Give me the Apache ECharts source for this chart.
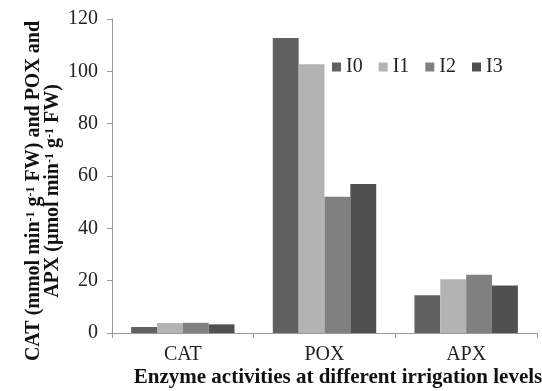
<!DOCTYPE html>
<html><head><meta charset="utf-8">
<script src="https://cdn.jsdelivr.net/npm/echarts@6/dist/echarts.min.js"></script>
<style>html,body{margin:0;padding:0;background:#fff}#c{width:542px;height:391px}</style>
</head><body><div id="c"></div>
<script>
const categories = ['CAT', 'POX', 'APX'];
const seriesNames = ['I0', 'I1', 'I2', 'I3'];
const I0 = [2.3, 112.7, 14.4];
const I1 = [3.8, 102.7, 20.5];
const I2 = [3.9, 52.1, 22.3];
const I3 = [3.3, 56.9, 18.2];
const yTicks = [0, 20, 40, 60, 80, 100, 120];
const colors = ['#606060', '#b3b3b3', '#808080', '#505050'];
const values = [I0, I1, I2, I3];
const FONT = 'Liberation Serif';

const chart = echarts.init(document.getElementById('c'), null, {renderer: 'canvas'});
chart.setOption({
  animation: false,
  grid: {left: 112, right: 5, top: 19, bottom: 58},
  legend: {
    left: 327, top: 52, itemWidth: 9, itemHeight: 9, itemGap: 16,
    icon: 'rect',
    textStyle: {fontFamily: FONT, fontSize: 20, color: '#222'},
    data: seriesNames
  },
  xAxis: {
    type: 'category', data: categories,
    axisLine: {lineStyle: {color: '#9a9a9a', width: 1}},
    axisTick: {show: true, length: 5, lineStyle: {color: '#9a9a9a'}},
    axisLabel: {fontFamily: FONT, fontSize: 20, color: '#222', margin: 12}
  },
  yAxis: {
    type: 'value', min: yTicks[0], max: yTicks[yTicks.length-1], interval: 20,
    axisLine: {show: true, lineStyle: {color: '#9a9a9a', width: 1}},
    axisTick: {show: true, length: 5, lineStyle: {color: '#9a9a9a'}},
    splitLine: {show: false},
    axisLabel: {fontFamily: FONT, fontSize: 20, color: '#222', margin: 14}
  },
  series: seriesNames.map((n, i) => ({
    name: n, type: 'bar', data: values[i],
    itemStyle: {color: colors[i]},
    barGap: '0%', barCategoryGap: '27%'
  })),
  graphic: [
    {
      type: 'text', x: 338, y: 378,
      style: {text: 'Enzyme activities at different irrigation levels', fontFamily: FONT, fontWeight: 'bold', fontSize: 21, fill: '#111', align: 'center', verticalAlign: 'middle'}
    },
    {
      type: 'text', x: 44, y: 191, rotation: Math.PI / 2,
      style: {
        text: '{n|CAT (mmol min}{s|-1}{n| g}{s|-1}{n| FW) and POX and}\n{n|APX (µmol min}{s|-1}{n| g}{s|-1}{n| FW)}',
        fontFamily: FONT, fontWeight: 'bold', fontSize: 20, fill: '#111', align: 'center', verticalAlign: 'middle',
        lineHeight: 19,
        rich: {
          n: {fontFamily: FONT, fontWeight: 'bold', fontSize: 20, fill: '#111', lineHeight: 19, verticalAlign: 'bottom'},
          s: {fontFamily: FONT, fontWeight: 'bold', fontSize: 12, fill: '#111', lineHeight: 19, verticalAlign: 'top'}
        }
      }
    }
  ]
});
</script></body></html>
